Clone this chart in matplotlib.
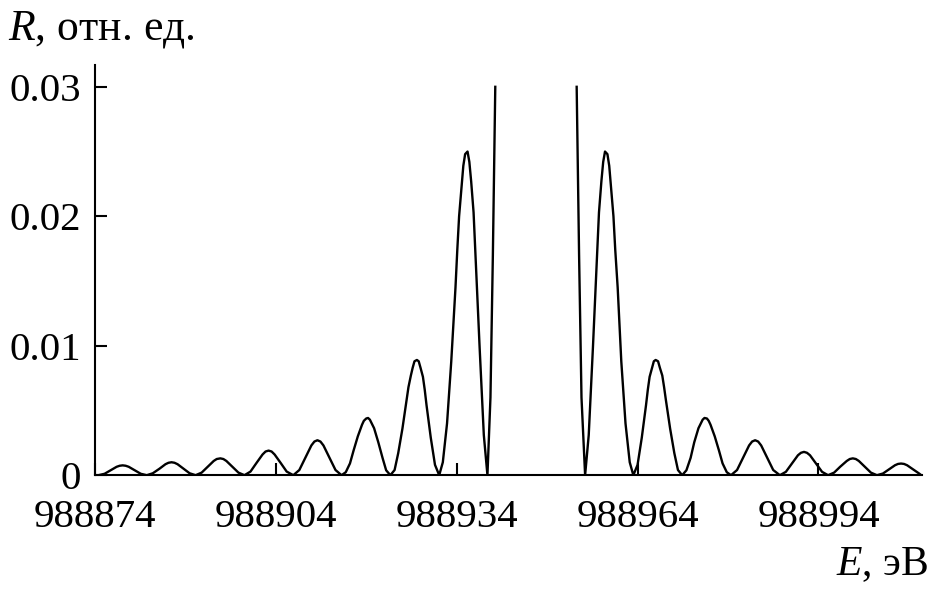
"""
Отражательная способность R(E) вблизи 988947 эВ.
Значения сняты с исходного рисунка; центральный максимум уходит за верх шкалы (0.03).
"""
import matplotlib
matplotlib.use("Agg")
import matplotlib.pyplot as plt
import numpy as np

# ── Style ──────────────────────────────────────────────────────────────────────
plt.rcParams.update({
    "font.family": "Liberation Serif",
    "font.size": 29.5,
    "mathtext.fontset": "custom",
    "mathtext.rm": "Liberation Serif",
    "mathtext.it": "Liberation Serif:italic",
    "axes.linewidth": 1.5,
})

# ── Data ───────────────────────────────────────────────────────────────────────
# energy, eV
energy = [
    # left side lobes 8..4
    988874.6, 988875.6, 988876.6, 988877.6, 988878.1, 988878.6, 988879.1, 988879.6, 988880.6, 988881.6, 988882.6,
    988883.6, 988884.7, 988885.7, 988886.2, 988886.7, 988887.2, 988887.7, 988888.7, 988889.7, 988890.7,
    988891.7, 988892.7, 988893.7, 988894.2, 988894.8, 988895.3, 988895.8, 988896.8, 988897.8, 988898.8,
    988899.8, 988900.8, 988901.8, 988902.3, 988902.8, 988903.3, 988903.8, 988904.8, 988905.8, 988906.9,
    988907.9, 988908.9, 988909.9, 988910.4, 988910.9, 988911.4, 988911.9, 988912.9, 988913.9, 988914.9,
    # left lobe 3
    988915.6, 988916.3, 988916.9, 988917.6, 988918.3, 988918.6, 988919.0, 988919.3, 988919.6,
    988920.3, 988921.0, 988921.7, 988922.3, 988923.0,
    # left lobe 2
    988923.7, 988924.3, 988925.0, 988925.7, 988926.0, 988926.4, 988926.7, 988927.0, 988927.4,
    988927.7, 988928.0, 988928.4, 988928.7, 988929.0, 988929.7, 988930.4, 988931.1,
    # left lobe 1
    988931.7, 988932.4, 988933.1, 988933.8, 988934.1, 988934.4, 988934.8, 988935.1, 988935.4,
    988935.8, 988936.1, 988936.4, 988936.8, 988937.1, 988937.8, 988938.5, 988939.1,
    # central lobe (cut at the top of the scale)
    988939.6, 988940.0, 988940.4, 988947.2, 988953.9, 988954.3, 988954.7, 988955.3,
    # right lobe 1
    988955.9, 988956.6, 988957.3, 988957.6, 988958.0, 988958.3, 988958.6, 988959.0, 988959.3,
    988959.6, 988960.0, 988960.3, 988960.7, 988961.3, 988962.0, 988962.7, 988963.3,
    # right lobe 2
    988964.0, 988964.7, 988965.4, 988965.7, 988966.0, 988966.4, 988966.7, 988967.0, 988967.4,
    988967.7, 988968.1, 988968.4, 988968.7, 988969.4, 988970.1, 988970.7, 988971.4,
    # right lobe 3
    988972.1, 988972.8, 988973.4, 988974.1, 988974.8, 988975.1, 988975.5, 988975.8, 988976.1,
    988976.8, 988977.5, 988978.1, 988978.8, 988979.5,
    # right side lobes 4..7
    988980.5, 988981.5, 988982.5, 988983.0, 988983.5, 988984.0, 988984.5, 988985.5, 988986.5, 988987.6,
    988988.6, 988989.6, 988990.6, 988991.1, 988991.6, 988992.1, 988992.6, 988993.6, 988994.6, 988995.6,
    988996.6, 988997.6, 988998.7, 988999.2, 988999.7, 989000.2, 989000.7, 989001.7, 989002.7, 989003.7,
    989004.7, 989005.7, 989006.7, 989007.2, 989007.7, 989008.2, 989008.7, 989009.7, 989010.7, 989011.0,
]

# reflectivity, rel. units (nan = off the top of the scale)
refl = [
    0, 0.00011, 0.00038, 0.00065, 0.00073, 0.00076, 0.00073, 0.00065, 0.00038, 0.00011, 0,
    0.00015, 0.0005, 0.00085, 0.00096, 0.0010, 0.00096, 0.00085, 0.0005, 0.00015, 0,
    0.0002, 0.00065, 0.0011, 0.00125, 0.0013, 0.00125, 0.0011, 0.00065, 0.0002, 0,
    0.00028, 0.00095, 0.0016, 0.00183, 0.0019, 0.00183, 0.0016, 0.00095, 0.00028, 0,
    0.0004, 0.00135, 0.0023, 0.0026, 0.0027, 0.0026, 0.0023, 0.00135, 0.0004, 0,
    0.00023, 0.00091, 0.00191, 0.0030, 0.0039, 0.0042, 0.00438, 0.00442, 0.00429,
    0.00363, 0.00254, 0.00134, 0.00038, 0,
    0.0004, 0.0017, 0.0036, 0.0058, 0.0068, 0.0077, 0.0083, 0.0088, 0.0089,
    0.0088, 0.0083, 0.0076, 0.0066, 0.0054, 0.0029, 0.0008, 0,
    0.0010, 0.0040, 0.0088, 0.0145, 0.0174, 0.0200, 0.0222, 0.0239, 0.0248,
    0.0250, 0.0242, 0.0227, 0.0203, 0.0172, 0.0099, 0.0031, 0,
    0.006, 0.017, 0.030, np.nan, 0.030, 0.017, 0.006, 0,
    0.0031, 0.0099, 0.0172, 0.0203, 0.0227, 0.0242, 0.0250, 0.0248, 0.0239,
    0.0222, 0.0200, 0.0174, 0.0145, 0.0088, 0.0040, 0.0010, 0,
    0.0008, 0.0029, 0.0054, 0.0066, 0.0076, 0.0083, 0.0088, 0.0089, 0.0088,
    0.0083, 0.0077, 0.0068, 0.0058, 0.0036, 0.0017, 0.0004, 0,
    0.00038, 0.00134, 0.00254, 0.00363, 0.00429, 0.00442, 0.00438, 0.0042, 0.0039,
    0.0030, 0.00191, 0.00091, 0.00023, 0,
    0.0004, 0.00135, 0.0023, 0.0026, 0.0027, 0.0026, 0.0023, 0.00135, 0.0004, 0,
    0.00026, 0.0009, 0.00154, 0.00173, 0.0018, 0.00173, 0.00154, 0.0009, 0.00026, 0,
    0.0002, 0.00065, 0.0011, 0.00125, 0.0013, 0.00125, 0.0011, 0.00065, 0.0002, 0,
    0.00013, 0.00045, 0.00077, 0.00087, 0.0009, 0.00087, 0.00077, 0.00045, 0.00013, 0.00002,
]

xticks = [988874, 988904, 988934, 988964, 988994]
yticks = [0, 0.01, 0.02, 0.03]
ytick_labels = ["0", "0.01", "0.02", "0.03"]

# ── Figure ─────────────────────────────────────────────────────────────────────
fig = plt.figure(figsize=(9.4, 6), dpi=100)
ax = fig.add_axes([0.101, 0.208, 0.880, 0.684])

ax.plot(energy, refl, color="black", linewidth=1.7, solid_joinstyle="round")

ax.set_xlim(988874, 989011.2)
ax.set_ylim(0, 0.0317)
ax.set_xticks(xticks)
ax.set_xticklabels([str(t) for t in xticks])
ax.set_yticks(yticks)
ax.set_yticklabels(ytick_labels)

ax.tick_params(direction="in", length=8.5, width=1.5)
ax.tick_params(axis="x", pad=17)
ax.tick_params(axis="y", pad=10)
ax.spines["top"].set_visible(False)
ax.spines["right"].set_visible(False)
ax.patch.set_facecolor("none")

fig.text(8 / 940, 1 - 40 / 600, "$R$, отн. ед.", ha="left", va="baseline", fontsize=31.5)
fig.text(928 / 940, 1 - 575 / 600, "$E$, эВ", ha="right", va="baseline", fontsize=30)

fig.savefig("out.png", dpi=100)
